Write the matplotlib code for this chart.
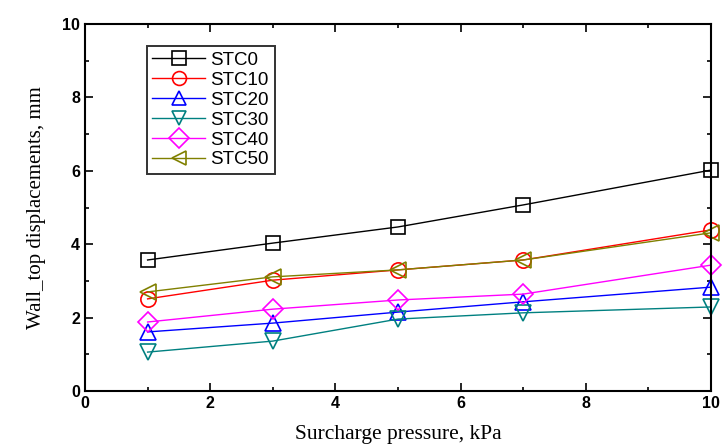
import matplotlib
matplotlib.use('Agg')
import matplotlib.pyplot as plt

# Surcharge pressure (kPa) and wall-top displacement (mm)
pressure = [1, 3, 5, 7, 10]
stc0 = [3.57, 4.03, 4.47, 5.07, 6.02]
stc10 = [2.51, 3.02, 3.30, 3.57, 4.39]
stc20 = [1.61, 1.85, 2.15, 2.43, 2.83]
stc30 = [1.06, 1.36, 1.96, 2.13, 2.29]
stc40 = [1.88, 2.23, 2.48, 2.64, 3.43]
stc50 = [2.70, 3.11, 3.30, 3.57, 4.31]

labels = ['STC0', 'STC10', 'STC20', 'STC30', 'STC40', 'STC50']
series = [stc0, stc10, stc20, stc30, stc40, stc50]
colors = ['black', 'red', 'blue', '#008080', 'magenta', '#808000']
markers = ['s', 'o', '^', 'v', 'D', '<']
sizes = [10, 11, 11, 11, 10, 11]

fig = plt.figure(figsize=(7.23, 4.45), dpi=100)
ax = fig.add_axes([85 / 723, 1 - 391 / 445, 626 / 723, 367 / 445])

for y, lab, c, m, s in zip(series, labels, colors, markers, sizes):
    ax.plot(pressure, y, color=c, marker=m, markersize=s, markerfacecolor='none',
            markeredgewidth=1.2, linewidth=1.0, label=lab, clip_on=False)

ax.set_xlim(0, 10)
ax.set_ylim(0, 10)
ax.set_xticks([0, 2, 4, 6, 8, 10])
ax.set_yticks([0, 2, 4, 6, 8, 10])
ax.set_xticks([1, 3, 5, 7, 9], minor=True)
ax.set_yticks([1, 3, 5, 7, 9], minor=True)
ax.tick_params(which='both', direction='in', top=True, right=True, width=1.2)
ax.tick_params(which='major', length=6, labelsize=11.5)
ax.tick_params(which='minor', length=3)
for lbl in ax.get_xticklabels() + ax.get_yticklabels():
    lbl.set_family('Liberation Sans')
    lbl.set_fontweight('bold')
for sp in ax.spines.values():
    sp.set_linewidth(1.5)

ax.set_xlabel('Surcharge pressure, kPa', family='Liberation Serif', fontsize=15.5, labelpad=10)
ax.set_ylabel('Wall_top displacements, mm', family='Liberation Serif', fontsize=15, labelpad=12)

leg = ax.legend(loc='upper left', bbox_to_anchor=(0.0986, 0.94), borderaxespad=0,
                frameon=True, fancybox=False, edgecolor='black',
                prop={'family': 'Liberation Sans', 'size': 13.5},
                handlelength=2.8, labelspacing=0.15, borderpad=0.3, handletextpad=0.3)
leg.get_frame().set_linewidth(1.4)
for h in leg.legend_handles:
    h.set_markersize(10)

fig.savefig('out.png', dpi=100)
